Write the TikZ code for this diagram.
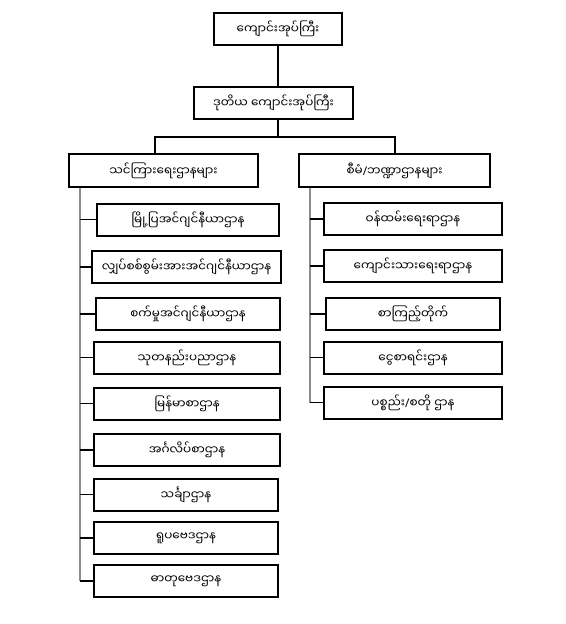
\documentclass[tikz,border=0pt]{standalone}
\usepackage{fontspec}
\newfontfamily\mm[Script=Myanmar]{Noto Sans Myanmar UI}
\newfontfamily\lat{Noto Sans}
\begin{document}
\begin{tikzpicture}[x=0.75pt,y=-0.75pt,
  box/.style={draw=black,line width=1.5pt,minimum height=24pt,inner sep=0pt,font=\mm\fontsize{9}{10}\selectfont,fill=white},
  conn/.style={draw=black,line width=1.2pt},
  rail/.style={draw=black!45,line width=0.9pt},
  tick/.style={draw=black,line width=1pt}]
\useasboundingbox (0,0) rectangle (566,624);
% top
\node[box,minimum width=96pt] (top) at (278,29) {ကျောင်းအုပ်ကြီး};
\node[box,minimum width=119pt] (dep) at (273.5,103) {ဒုတိယ ကျောင်းအုပ်ကြီး};
\node[box,minimum width=142pt] (lh) at (163.5,170.5) {သင်ကြားရေးဌာနများ};
\node[box,minimum width=143pt] (rh) at (394.5,170.5) {စီမံ{\lat /}ဘဏ္ဍာဌာနများ};
% left column
\node[box,minimum width=137pt] (l1) at (188,219.5) {မြို့ပြအင်ဂျင်နီယာဌာန};
\node[box,minimum width=142pt] (l2) at (186.5,267) {လျှပ်စစ်စွမ်းအားအင်ဂျင်နီယာဌာန};
\node[box,minimum width=138pt] (l3) at (188,314) {စက်မှုအင်ဂျင်နီယာဌာန};
\node[box,minimum width=139pt] (l4) at (187,357.5) {သုတနည်းပညာဌာန};
\node[box,minimum width=139pt] (l5) at (187,403.5) {မြန်မာစာဌာန};
\node[box,minimum width=139pt] (l6) at (187,450) {အင်္ဂလိပ်စာဌာန};
\node[box,minimum width=138pt] (l7) at (186,494.5) {သင်္ချာဌာန};
\node[box,minimum width=138pt] (l8) at (186,538) {ရူပဗေဒဌာန};
\node[box,minimum width=138pt] (l9) at (186,581) {ဓာတုဗေဒဌာန};
% right column
\node[box,minimum width=133pt] (r1) at (413,219) {ဝန်ထမ်းရေးရာဌာန};
\node[box,minimum width=133pt] (r2) at (413,266) {ကျောင်းသားရေးရာဌာန};
\node[box,minimum width=130pt] (r3) at (413,314) {စာကြည့်တိုက်};
\node[box,minimum width=133pt] (r4) at (413,357.5) {ငွေစာရင်းဌာန};
\node[box,minimum width=133pt] (r5) at (413,402.5) {ပစ္စည်း{\lat /}စတို ဌာန};
% connectors
\coordinate (j) at (278,137);
\coordinate (jl) at (155,137);
\coordinate (jr) at (395,137);
\coordinate (lr) at (80,186);
\coordinate (rr) at (310,186);
\draw[conn] (top.south) -- (top.south |- dep.north);
\draw[conn] (j |- dep.south) -- (j);
\draw[conn] (jl |- lh.north) -- (jl) -- (jr) -- (jr |- rh.north);
\draw[rail] (lr |- lh.south) -- (lr |- l9.west);
\draw[rail] (rr |- rh.south) -- (rr |- r5.west);
\foreach \n in {l1,l2,l3,l4,l5,l6,l7,l8,l9} \draw[tick] (lr |- \n.west) -- (\n.west);
\foreach \n in {r1,r2,r3,r4,r5} \draw[tick] (rr |- \n.west) -- (\n.west);
\end{tikzpicture}
\end{document}
